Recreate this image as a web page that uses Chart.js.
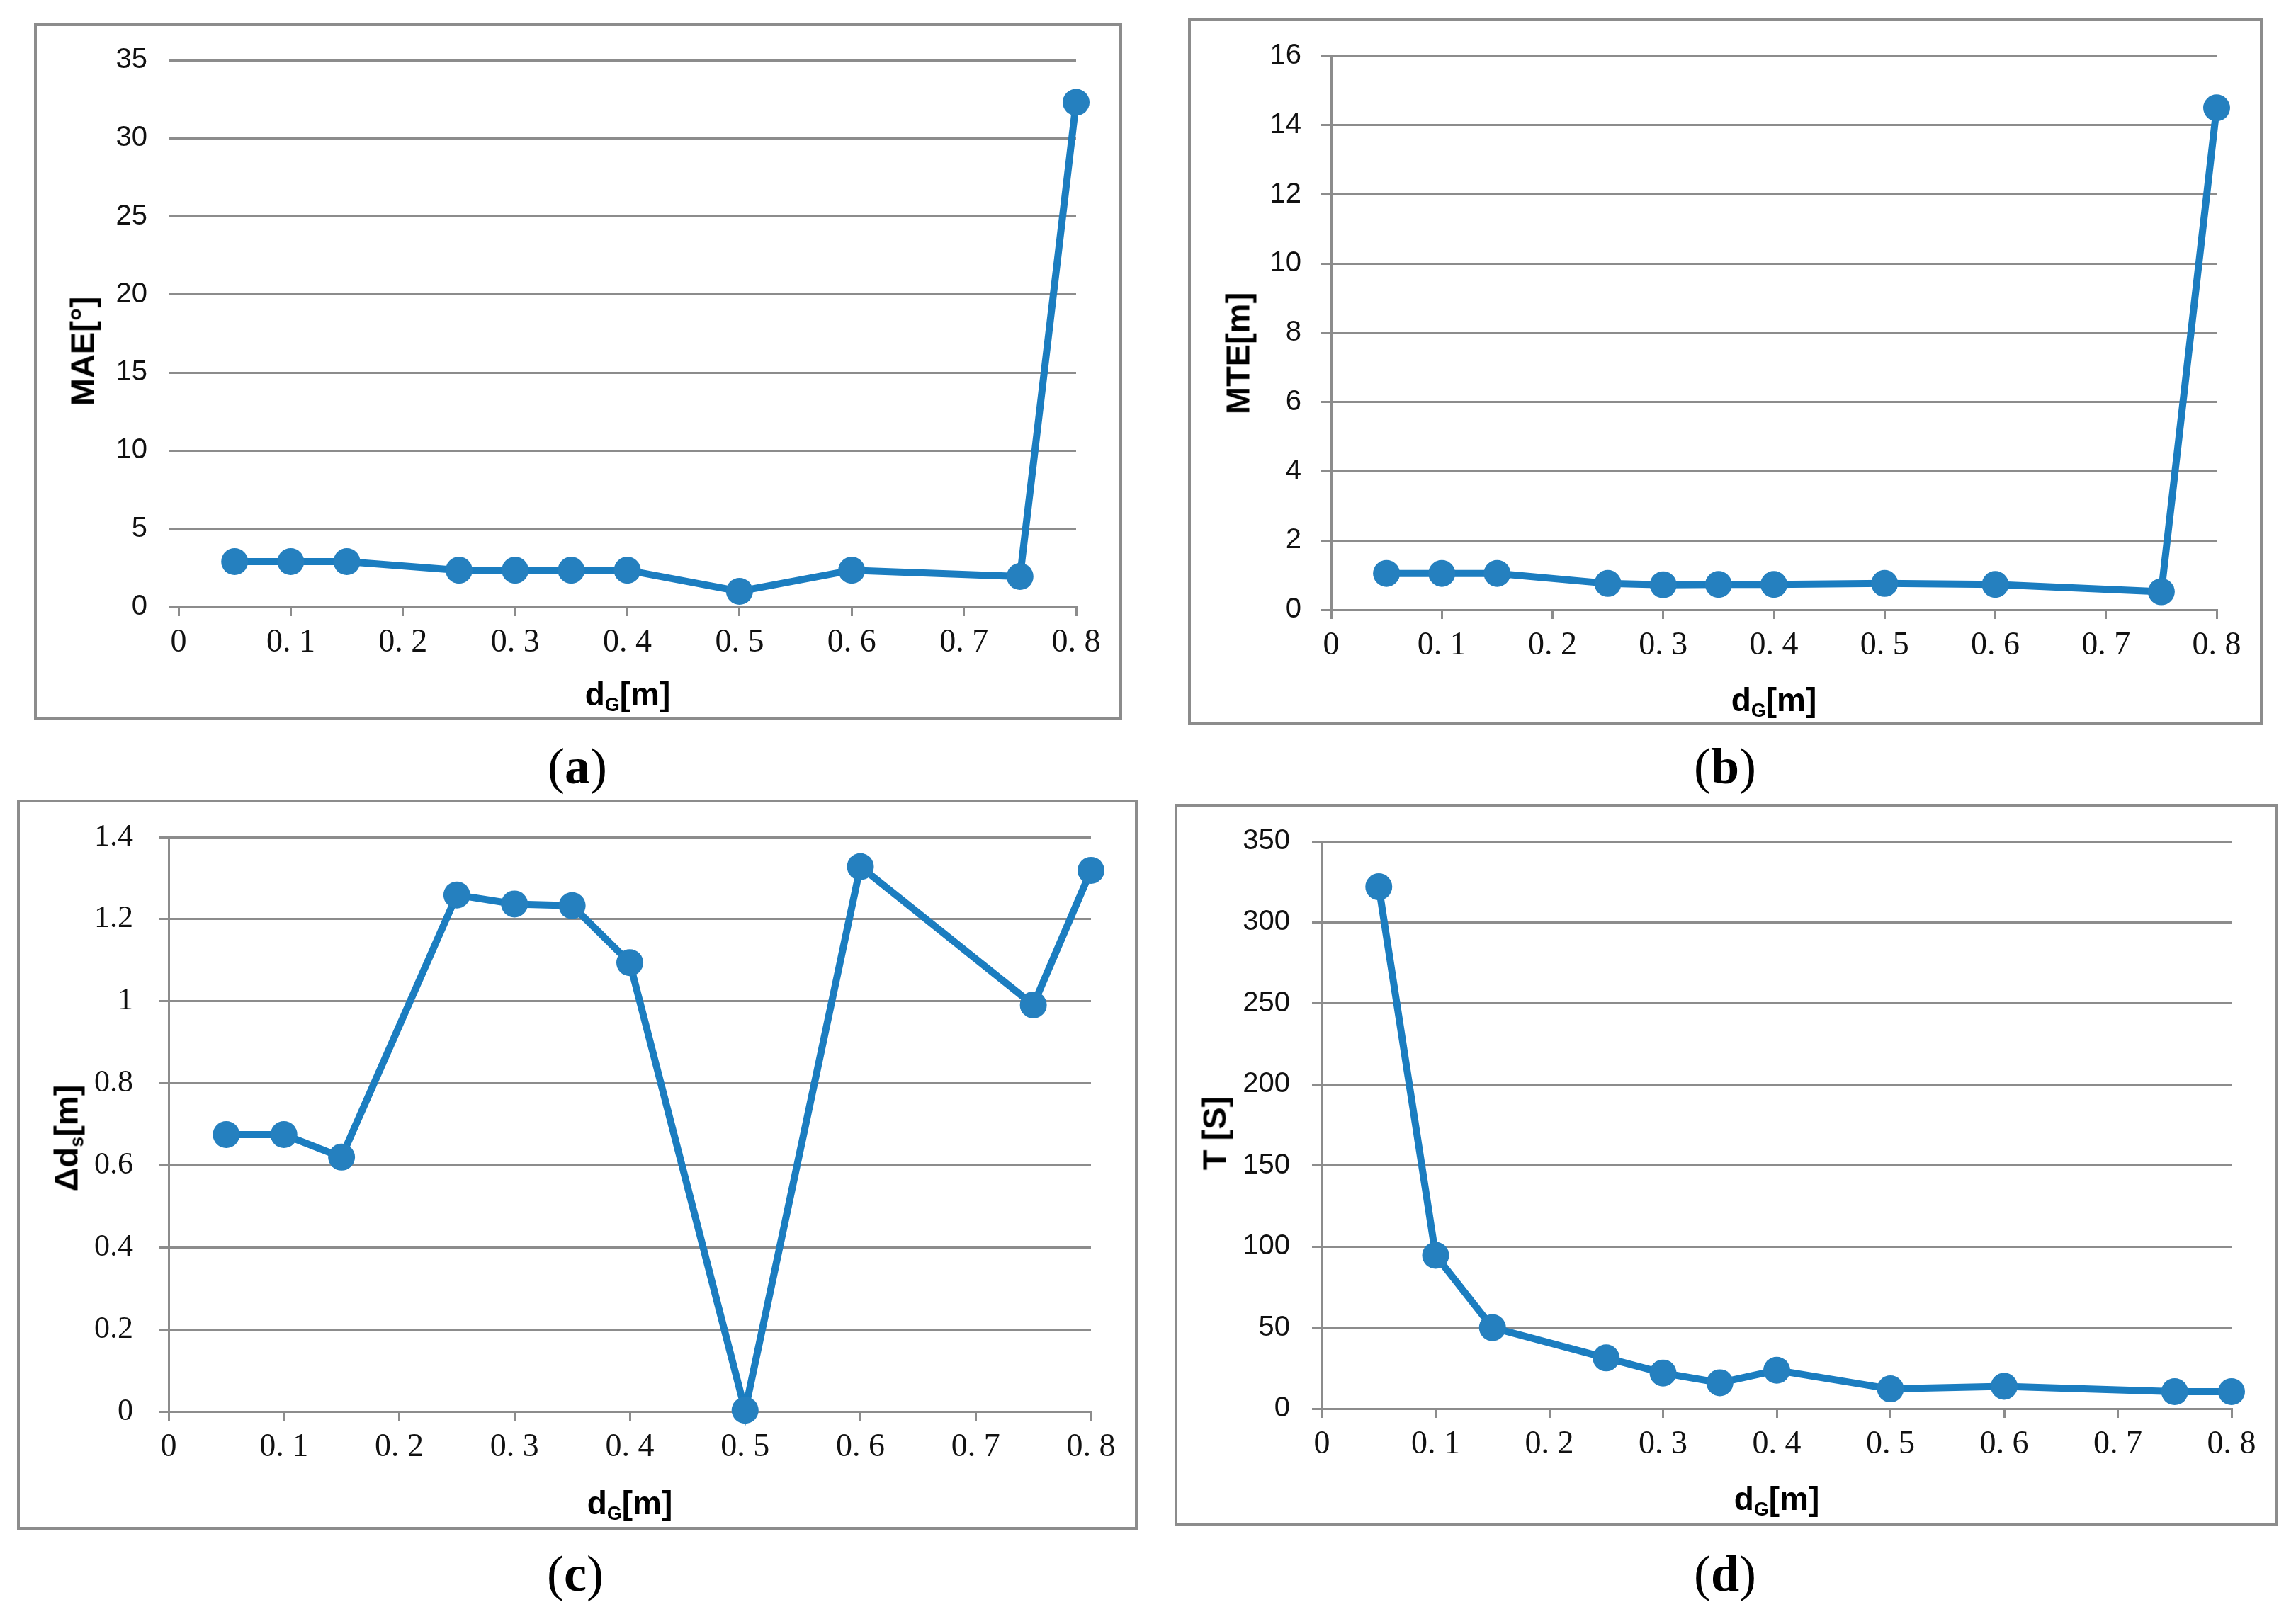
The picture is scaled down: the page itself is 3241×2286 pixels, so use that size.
<!DOCTYPE html>
<html><head><meta charset="utf-8">
<script src="https://cdn.jsdelivr.net/npm/chart.js@4"></script>
<style>
html,body{margin:0;padding:0;background:#fff;}
#page{position:relative;width:3241px;height:2286px;overflow:hidden;background:#fff;}
.box{position:absolute;border:4px solid #8c8c8c;box-sizing:border-box;}
canvas{position:absolute;}
.ytitle{position:absolute;font:bold 47px "Liberation Sans",Arial,sans-serif;color:#000;white-space:nowrap;line-height:47px;transform:translate(-50%,-50%) rotate(-90deg);}
.xtitle{position:absolute;font:bold 46px "Liberation Sans",Arial,sans-serif;color:#000;white-space:nowrap;line-height:46px;transform:translate(-50%,-50%);}
sub{font-size:27px;vertical-align:-8px;line-height:0;}
.cap{position:absolute;font:72px "Liberation Serif","Times New Roman",serif;color:#000;white-space:nowrap;line-height:72px;transform:translate(-50%,-50%);}
.cap b{font-weight:bold;}
</style>
</head><body>
<div id="page"></div>
<script>
// ---- data ----
const xValues = [0.05, 0.1, 0.15, 0.25, 0.3, 0.35, 0.4, 0.5, 0.6, 0.75, 0.8];
const maeValues = [2.9, 2.9, 2.9, 2.35, 2.35, 2.35, 2.35, 1.0, 2.35, 1.95, 32.3];
const mteValues = [1.05, 1.05, 1.05, 0.76, 0.72, 0.73, 0.73, 0.76, 0.73, 0.52, 14.5];
const dsValues = [0.675, 0.675, 0.62, 1.259, 1.237, 1.233, 1.094, 0.003, 1.328, 0.991, 1.319];
const tValues = [322, 94.6, 50, 31.3, 22, 16, 23.7, 12.2, 13.8, 10.5, 10.5];
const xTickLabels = ["0", "0. 1", "0. 2", "0. 3", "0. 4", "0. 5", "0. 6", "0. 7", "0. 8"];
const maeTickLabels = ["0", "5", "10", "15", "20", "25", "30", "35"];
const mteTickLabels = ["0", "2", "4", "6", "8", "10", "12", "14", "16"];
const dsTickLabels = ["0", "0.2", "0.4", "0.6", "0.8", "1", "1.2", "1.4"];
const tTickLabels = ["0", "50", "100", "150", "200", "250", "300", "350"];

// ---- layout ----
const panels = [
  {values: maeValues, yTicks: maeTickLabels, yMax: 35, step: 5,
   box: [48, 33, 1584, 1017], plot: [252, 85, 1519, 857],
   yFont: {family: '"Liberation Sans", Arial, sans-serif', size: 40}, yPad: 30, yLine: false,
   yTitle: 'MAE[°]', yT: [116, 496], xT: [886, 980], cap: 'a', capPos: [815, 1082]},
  {values: mteValues, yTicks: mteTickLabels, yMax: 16, step: 2,
   box: [1677, 26, 3194, 1024], plot: [1879, 79, 3129, 861],
   yFont: {family: '"Liberation Sans", Arial, sans-serif', size: 40}, yPad: 28, yLine: true,
   yTitle: 'MTE[m]', yT: [1747, 499], xT: [2504, 988], cap: 'b', capPos: [2435, 1082]},
  {values: dsValues, yTicks: dsTickLabels, yMax: 1.4, step: 0.2,
   box: [24, 1129, 1606, 2160], plot: [238, 1182, 1540, 1993],
   yFont: {family: '"Liberation Serif", "Times New Roman", serif', size: 44}, yPad: 36, yLine: true,
   yTitle: 'Δd<sub>s</sub>[m]', yT: [93, 1607], xT: [889, 2122], cap: 'c', capPos: [812, 2222]},
  {values: tValues, yTicks: tTickLabels, yMax: 350, step: 50,
   box: [1658, 1135, 3216, 2154], plot: [1866, 1188, 3150, 1989],
   yFont: {family: '"Liberation Sans", Arial, sans-serif', size: 40}, yPad: 31, yLine: true,
   yTitle: 'T [S]', yT: [1714, 1600], xT: [2508, 2116], cap: 'd', capPos: [2435, 2222]}
];

const page = document.getElementById('page');
const GRID = '#8c8c8c';
const LINE = '#1b7dc0';
const MARK = '#2580bf';
const XH = 100;

function add(cls, html, x, y) {
  const d = document.createElement('div');
  d.className = cls;
  d.innerHTML = html;
  d.style.left = x + 'px';
  d.style.top = y + 'px';
  page.appendChild(d);
}

panels.forEach(p => {
  const [bl, bt, br, bb] = p.box;
  const [pl, pt, pr, pb] = p.plot;
  const w = br - bl, h = bb - bt;
  const box = document.createElement('div');
  box.className = 'box';
  box.style.left = bl + 'px'; box.style.top = bt + 'px';
  box.style.width = w + 'px'; box.style.height = h + 'px';
  page.appendChild(box);

  const cv = document.createElement('canvas');
  cv.width = w; cv.height = h;
  cv.style.left = bl + 'px'; cv.style.top = bt + 'px';
  cv.style.width = w + 'px'; cv.style.height = h + 'px';
  page.appendChild(cv);

  const yW = pl - bl;
  new Chart(cv, {
    type: 'line',
    data: {
      datasets: [{
        data: xValues.map((x, i) => ({x: x, y: p.values[i]})),
        borderColor: LINE, borderWidth: 10, tension: 0,
        pointRadius: 19, pointHoverRadius: 19, pointBackgroundColor: MARK,
        pointBorderWidth: 0, pointBorderColor: MARK, clip: false, fill: false
      }]
    },
    options: {
      responsive: false, animation: false, devicePixelRatio: 1,
      layout: {padding: {left: 0, top: pt - bt, right: br - pr, bottom: bb - pb - XH}},
      plugins: {legend: {display: false}, tooltip: {enabled: false}},
      scales: {
        x: {
          type: 'linear', min: 0, max: 0.8,
          afterFit: s => { s.height = XH; s.paddingLeft = 0; s.paddingRight = 0; },
          ticks: {stepSize: 0.1, autoSkip: false, maxRotation: 0, minRotation: 0, padding: 10,
                  color: '#111', font: {family: '"Liberation Serif", "Times New Roman", serif', size: 46},
                  callback: (v, i) => xTickLabels[i]},
          grid: {drawOnChartArea: false, drawTicks: true, tickLength: 13, color: GRID, lineWidth: 3},
          border: {display: true, color: GRID, width: 3}
        },
        y: {
          type: 'linear', min: 0, max: p.yMax,
          afterFit: s => { s.width = yW; s.paddingTop = 0; s.paddingBottom = 0; },
          ticks: {stepSize: p.step, autoSkip: false, padding: p.yPad, color: '#111', font: p.yFont,
                  callback: (v, i) => p.yTicks[i]},
          grid: {drawTicks: true, tickLength: 14, color: GRID, lineWidth: 3},
          border: {display: p.yLine, color: GRID, width: 3}
        }
      }
    }
  });

  add('ytitle', p.yTitle, p.yT[0], p.yT[1]);
  add('xtitle', 'd<sub>G</sub>[m]', p.xT[0], p.xT[1]);
  add('cap', '(<b>' + p.cap + '</b>)', p.capPos[0], p.capPos[1]);
});
</script>
</body></html>
